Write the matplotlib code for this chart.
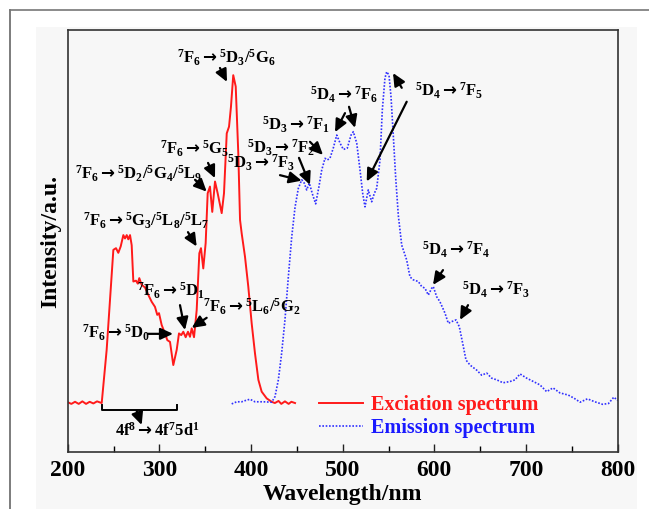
import matplotlib
matplotlib.use("Agg")
import matplotlib.pyplot as plt
from matplotlib.patches import Rectangle
from matplotlib.lines import Line2D
from matplotlib.ticker import MultipleLocator

plt.rcParams['font.family'] = ['Liberation Serif', 'DejaVu Serif']
plt.rcParams['font.weight'] = 'bold'
plt.rcParams['mathtext.fontset'] = 'custom'
plt.rcParams['mathtext.rm'] = 'Liberation Serif:bold'
plt.rcParams['mathtext.it'] = 'Liberation Serif:bold'
plt.rcParams['mathtext.bf'] = 'Liberation Serif:bold'
plt.rcParams['mathtext.sf'] = 'DejaVu Sans'

# ---------------- data ----------------
exc_wl = [200, 204, 208, 212, 216, 220, 224, 228, 232, 237.1, 242.5, 249.8, 252.7, 255.2, 257.8,
          260.7, 262.5, 264.4, 266.1, 268.0, 269.8, 271.6, 274.5, 276.4, 278.1, 280.7, 284.3,
          288.0, 291.6, 295.2, 297.7, 299.6, 302.5, 306.1, 308.7, 311.6, 315.2, 318.9, 321.4,
          323.9, 326.1, 328.7, 331.2, 333.4, 335.3, 337.8, 340.7, 343.6, 345.4, 347.9, 350.5,
          352.7, 355.2, 357.7, 360.7, 363.6, 368.0, 370.5, 373.5, 376.0, 378.1, 380.6, 383.3,
          386.1, 388.0, 389.8, 393.4, 397.0, 400.7, 404.3, 408.0, 411.6, 417.1, 422.5, 426,
          430, 433, 437, 441, 444, 448]
exc_int = [11.8, 11.4, 11.9, 11.4, 12.0, 11.4, 11.9, 11.5, 12.0, 11.6, 24.2, 47.9, 48.3, 47.2, 48.7,
           51.4, 50.6, 51.4, 50.4, 51.4, 49.0, 40.4, 40.6, 39.9, 41.2, 39.6, 39.0,
           37.2, 35.6, 34.4, 32.5, 32.9, 30.1, 28.1, 26.5, 26.1, 20.6, 24.2, 28.1,
           27.7, 28.5, 27.2, 28.5, 27.3, 29.3, 27.2, 33.6, 47.1, 48.3, 43.5, 49.5,
           61.3, 62.9, 56.9, 64.1, 61.3, 56.6, 61.3, 75.5, 77.1, 81.8, 89.3, 86.6,
           70.8, 55.0, 51.8, 46.3, 39.2, 30.5, 23.4, 17.1, 14.3, 12.7, 11.9, 11.6,
           12.1, 11.4, 12.0, 11.4, 11.9, 11.6]

em_wl = [378.9, 384.4, 389.8, 395.3, 398.9, 404.3, 413.4, 422.5, 426.1, 429.8,
         433.4, 437.0, 440.7, 444.4, 448.0, 451.6, 455.3, 458.1, 460.7, 463.6,
         467.3, 470.5, 474.1, 477.1, 480.7, 483.2, 486.1, 489.7, 493.5, 497.1,
         500.7, 505.0, 509.1, 511.6, 515.3, 518.9, 521.8, 524.3, 527.9, 531.6,
         534.5, 537.1, 540.7, 543.2, 546.1, 548.0, 550.5, 552.7, 555.2, 557.8,
         560.7, 564.4, 569.8, 573.4, 577.0, 582.5, 586.2, 589.8, 593.4, 597.1,
         598.8, 602.5, 606.1, 611.6, 615.2, 618.9, 623.6, 627.2, 631.6, 634.5,
         638.9, 646.2, 651.6, 657.1, 662.5, 668.0, 674.9, 682.5, 688.0, 693.4,
         700.7, 708.0, 715.2, 722.5, 729.4, 737.0, 746, 752, 759, 767,
         775, 783.6, 790, 795.8, 800]
em_int = [11.4, 11.9, 11.9, 12.3, 12.5, 11.9, 11.9, 11.8, 13.1, 17.1,
          23.4, 31.3, 41.5, 51.0, 58.0, 62.5, 64.5, 63.7, 62.1, 63.7,
          60.9, 58.8, 62.9, 66.8, 69.6, 69.2, 69.6, 72.0, 75.1, 73.2,
          71.7, 72.0, 75.1, 75.9, 73.2, 66.8, 61.3, 58.1, 62.1, 59.3,
          61.3, 62.5, 69.2, 81.0, 88.6, 90.1, 89.3, 84.2, 75.0, 65.0,
          56.0, 49.0, 45.5, 41.5, 40.8, 40.4, 39.2, 38.8, 37.2, 38.8,
          39.2, 36.8, 35.6, 32.9, 30.5, 30.9, 31.3, 29.7, 25.0, 21.8,
          20.6, 19.4, 18.2, 18.7, 17.5, 17.1, 16.4, 16.7, 17.1, 18.5,
          17.5, 16.7, 15.9, 14.3, 15.2, 14.0, 13.5, 12.8, 11.8, 12.6,
          11.9, 11.3, 11.5, 13.0, 12.2]

series_labels = ['Exciation spectrum', 'Emission spectrum']
xticks = [200, 300, 400, 500, 600, 700, 800]

A = r'$\mathsf{\rightarrow}$'
# annotations: label, text (x, y), list of arrows (tail -> head)
ann_labels = [
    r'$^7$F$_6$' + A + r'$^5$D$_3$/$^5$G$_6$',
    r'$^7$F$_6$' + A + r'$^5$G$_5$',
    r'$^7$F$_6$' + A + r'$^5$D$_2$/$^5$G$_4$/$^5$L$_9$',
    r'$^7$F$_6$' + A + r'$^5$G$_3$/$^5$L$_8$/$^5$L$_7$',
    r'$^7$F$_6$' + A + r'$^5$D$_1$',
    r'$^7$F$_6$' + A + r'$^5$L$_6$/$^5$G$_2$',
    r'$^7$F$_6$' + A + r'$^5$D$_0$',
    r'4f$^8$' + A + r'4f$^7$5d$^1$',
    r'$^5$D$_3$' + A + r'$^7$F$_3$',
    r'$^5$D$_3$' + A + r'$^7$F$_2$',
    r'$^5$D$_3$' + A + r'$^7$F$_1$',
    r'$^5$D$_4$' + A + r'$^7$F$_6$',
    r'$^5$D$_4$' + A + r'$^7$F$_5$',
    r'$^5$D$_4$' + A + r'$^7$F$_4$',
    r'$^5$D$_4$' + A + r'$^7$F$_3$',
]
ann_text_xy = [(318.9, 93.4), (300.7, 71.8), (208.0, 65.9), (216.7, 54.7), (275.6, 38.2),
               (347.6, 34.4), (215.6, 28.2), (251.6, 5.0), (373.8, 68.5), (395.6, 72.0),
               (412.0, 77.5), (464.3, 84.6), (578.9, 85.5), (586.5, 47.9), (630.1, 38.4)]
ann_arrows = [
    [((366.1, 91.0), (373.8, 87.7))],
    [((353.1, 68.5), (360.7, 64.9))],
    [((338.9, 64.5), (351.6, 61.7))],
    [((331.2, 52.1), (340.7, 48.7))],
    [((322.5, 34.8), (328.0, 28.9))],
    [((351.6, 31.8), (335.3, 29.4))],
    [((287.6, 28.0), (314.9, 28.0))],
    [((275.3, 9.7), (280.7, 6.4))],
    [((431.6, 65.6), (455.3, 64.3))],
    [((452.3, 69.7), (464.3, 63.3))],
    [((464.3, 73.5), (478.5, 70.4))],
    [((502.5, 80.3), (491.6, 75.8)), ((506.9, 81.8), (513.4, 76.8))],
    [((564.4, 86.3), (554.9, 89.8)), ((569.8, 83.0), (526.2, 64.1))],
    [((609.4, 43.1), (598.5, 39.6))],
    [((636.7, 34.8), (628.0, 31.3))],
]
bracket_x = (237.1, 318.9)
bracket_y = (11.2, 10.0)

# ---------------- figure ----------------
W, H = 649, 509
fig = plt.figure(figsize=(W / 100, H / 100), dpi=100, facecolor='white')
fig.patches.append(Rectangle((36 / W, 0), (637 - 36) / W, (H - 27) / H,
                             transform=fig.transFigure, facecolor='#f7f7f7',
                             edgecolor='none', zorder=-5))
fig.add_artist(Line2D([10 / W, 10 / W], [0, 1 - 10 / H], color='#666666', lw=1.2))
fig.add_artist(Line2D([10 / W, 1], [1 - 10 / H, 1 - 10 / H], color='#777777', lw=1.2))

ax = fig.add_axes([67.7 / W, (H - 452) / H, 550 / W, 422 / H])
ax.set_facecolor('#f7f7f7')

ax.plot(exc_wl, exc_int, color='#ff1a1a', lw=1.4, label=series_labels[0])
ax.plot(em_wl, em_int, color='#3030ff', lw=1.2, linestyle=(0, (1, 1)),
        label=series_labels[1])

ax.set_xlim(200, 800)
ax.set_ylim(0, 100)
ax.set_xticks(xticks)
ax.xaxis.set_minor_locator(MultipleLocator(50))
ax.set_yticks([])
ax.tick_params(axis='x', which='major', direction='in', length=6, width=1,
               labelsize=17, pad=6, colors='#222222')
ax.tick_params(axis='x', which='minor', direction='in', length=4, width=1)
for lab in ax.get_xticklabels():
    lab.set_fontweight('bold')
    lab.set_color('black')
for s in ax.spines.values():
    s.set_color('#333333')
    s.set_linewidth(1.2)

ax.set_xlabel('Wavelength/nm', fontsize=17, fontweight='bold', labelpad=2)
ax.set_ylabel('Intensity/a.u.', fontsize=17, fontweight='bold', labelpad=5)

for lab, (tx, ty), arrows in zip(ann_labels, ann_text_xy, ann_arrows):
    ax.text(tx, ty, lab, fontsize=12, fontweight='bold', ha='left', va='center')
    for tail, head in arrows:
        ax.annotate('', xy=head, xytext=tail,
                    arrowprops=dict(arrowstyle='-|>,head_width=0.35,head_length=0.75',
                                    lw=1.6, color='black', shrinkA=0, shrinkB=0))

ax.plot([bracket_x[0], bracket_x[0], bracket_x[1], bracket_x[1]],
        [bracket_y[0], bracket_y[1], bracket_y[1], bracket_y[0]],
        color='black', lw=1.4)

leg = ax.legend(loc='upper left', bbox_to_anchor=(0.457, 0.134), frameon=False,
                prop={'family': 'Liberation Serif', 'weight': 'bold', 'size': 14.5},
                handlelength=2.2, handletextpad=0.4, labelspacing=0.15,
                borderaxespad=0, borderpad=0)
for t, c in zip(leg.get_texts(), ['#ff1a1a', '#1a1aff']):
    t.set_color(c)

fig.savefig('out.png', dpi=100, facecolor=fig.get_facecolor())
